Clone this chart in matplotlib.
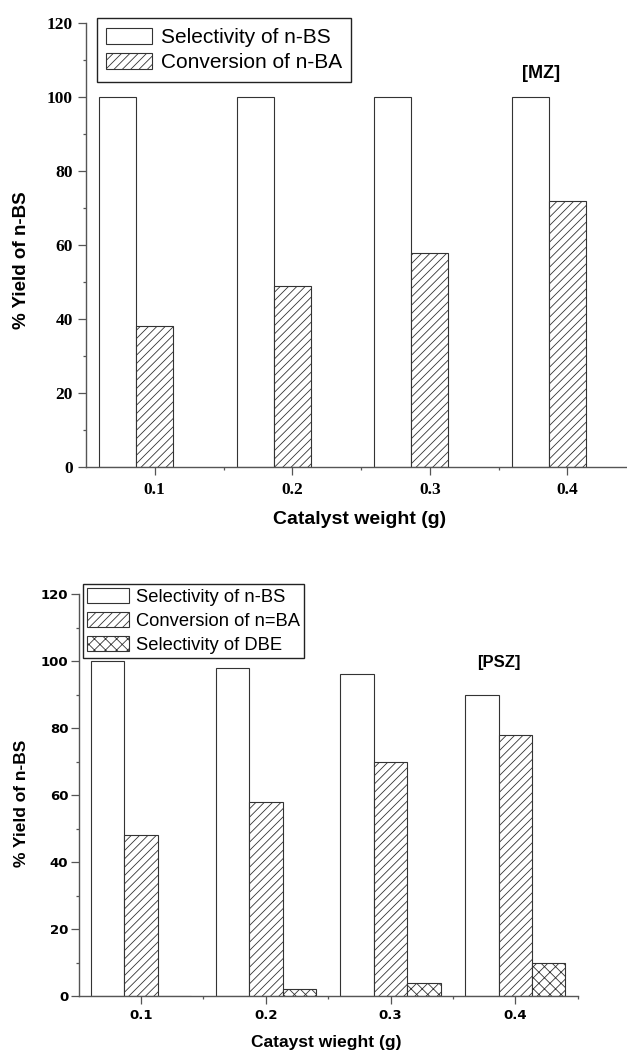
import numpy as np
import matplotlib.pyplot as plt
from matplotlib.font_manager import FontProperties

plt.rcParams['hatch.linewidth'] = 0.6
plt.rcParams['hatch.color'] = '#444444'

# data
cats = ['0.1', '0.2', '0.3', '0.4']
mz_sel_nbs = [100, 100, 100, 100]
mz_conv_nba = [38, 49, 58, 72]
psz_sel_nbs = [100, 98, 96, 90]
psz_conv_nba = [48, 58, 70, 78]
psz_sel_dbe = [0, 2, 4, 10]

x = np.arange(1, len(cats) + 1)
w = 0.268
edge = '#333333'

fig = plt.figure(figsize=(6.27, 10.53), dpi=100)
W, H = 627.0, 1053.0


def style_axes(ax, tickfont, tick_pad_x, tick_pad_y):
    ax.set_xlim(0.5, 4.5)
    ax.set_ylim(0, 120)
    ax.spines['top'].set_visible(False)
    ax.spines['right'].set_visible(False)
    for s in ['left', 'bottom']:
        ax.spines[s].set_color('#555555')
        ax.spines[s].set_linewidth(1.0)
    ax.set_xticks(x)
    ax.set_xticklabels(cats)
    ax.set_xticks([1.5, 2.5, 3.5, 4.5], minor=True)
    ax.set_yticks(np.arange(0, 121, 20))
    ax.set_yticks(np.arange(10, 120, 20), minor=True)
    ax.tick_params(which='major', direction='out', length=5.5, width=0.9, color='#555555')
    ax.tick_params(which='minor', direction='out', length=2.5, width=0.9, color='#555555')
    ax.tick_params(axis='x', which='major', pad=tick_pad_x)
    ax.tick_params(axis='y', which='major', pad=tick_pad_y)
    for lab in ax.get_xticklabels() + ax.get_yticklabels():
        lab.set_fontproperties(tickfont)


# ---- top panel [MZ]
ax1 = fig.add_axes([86 / W, 1 - 467 / H, 550 / W, 443.7 / H])
ax1.bar(x - w, mz_sel_nbs, w, color='white', edgecolor=edge, linewidth=0.8,
        label='Selectivity of n-BS')
ax1.bar(x, mz_conv_nba, w, color='white', edgecolor=edge, linewidth=0.8,
        hatch='////', label='Conversion of n-BA')
style_axes(ax1, FontProperties(family='Liberation Serif', weight='bold', size=12.5), 5, 4)
ax1.legend(loc='upper left', bbox_to_anchor=(97 / W, 1 - 18.3 / H),
           bbox_transform=fig.transFigure, borderaxespad=0, fancybox=False,
           edgecolor='#222222', framealpha=1, prop={'family': 'Liberation Sans', 'size': 15},
           handlelength=2.2, handleheight=0.8, handletextpad=0.4, borderpad=0.45,
           labelspacing=0.3)
ax1.get_legend().get_frame().set_linewidth(1.0)

fig.text(540.7 / W, 1 - 73.3 / H, '[MZ]', ha='center', va='center',
         family='Liberation Sans', weight='bold', size=13)
fig.text(22 / W, 1 - 260 / H, '% Yield of n-BS', rotation=90, ha='center', va='center',
         family='Liberation Sans', weight='bold', size=13.5)
fig.text(360 / W, 1 - 519 / H, 'Catalyst weight (g)', ha='center', va='center',
         family='Liberation Sans', weight='bold', size=14)

# ---- bottom panel [PSZ]
ax2 = fig.add_axes([78.7 / W, 1 - 996 / H, 499 / W, 402 / H])
ax2.bar(x - w, psz_sel_nbs, w, color='white', edgecolor=edge, linewidth=0.8,
        label='Selectivity of n-BS')
ax2.bar(x, psz_conv_nba, w, color='white', edgecolor=edge, linewidth=0.8,
        hatch='////', label='Conversion of n=BA')
ax2.bar(x + w, psz_sel_dbe, w, color='white', edgecolor=edge, linewidth=0.8,
        hatch='xxx', label='Selectivity of DBE')
style_axes(ax2, FontProperties(family='DejaVu Sans', weight='bold', size=9.5), 4, 2)
ax2.legend(loc='upper left', bbox_to_anchor=(82.7 / W, 1 - 584 / H),
           bbox_transform=fig.transFigure, borderaxespad=0, fancybox=False,
           edgecolor='#222222', framealpha=1, prop={'family': 'Liberation Sans', 'size': 13.2},
           handlelength=2.3, handleheight=0.85, handletextpad=0.4, borderpad=0.22,
           labelspacing=0.35)
ax2.get_legend().get_frame().set_linewidth(1.0)

fig.text(499 / W, 1 - 663 / H, '[PSZ]', ha='center', va='center',
         family='Liberation Sans', weight='bold', size=12)
fig.text(22 / W, 1 - 803 / H, '% Yield of n-BS', rotation=90, ha='center', va='center',
         family='Liberation Sans', weight='bold', size=12.5)
fig.text(326 / W, 1 - 1042 / H, 'Catayst wieght (g)', ha='center', va='center',
         family='Liberation Sans', weight='bold', size=12.5)

fig.savefig('out.png', dpi=100)
